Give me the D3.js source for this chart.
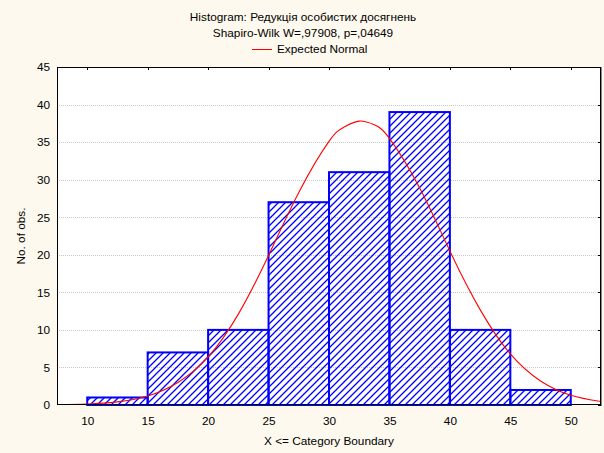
<!DOCTYPE html>
<html>
<head>
<meta charset="utf-8">
<script src="https://cdn.jsdelivr.net/npm/d3@7"></script>
<style>
  body { margin: 0; background: #fdf9ee; }
  svg { display: block; font-family: "Liberation Sans", Arial, sans-serif; }
</style>
</head>
<body>
<script>
// histogram bins (lower boundaries) and counts
var binStarts = [10, 15, 20, 25, 30, 35, 40, 45];
var binWidth = 5;
var counts = [1, 7, 10, 27, 31, 39, 10, 2];

// expected normal curve
var curveX = [7.5, 10, 12.5, 15, 17.5, 20, 22.5, 25, 27.5, 30, 31.25, 32.5, 33.75, 35, 37.5, 40, 42.5, 45, 47.5, 50, 52.5];
var curveY = [0.04, 0.13, 0.42, 1.2, 3.0, 6.4, 12.1, 19.9, 28.3, 35.1, 37.0, 37.8, 37.3, 35.5, 28.9, 20.5, 12.7, 6.8, 3.2, 1.3, 0.46];

var xTicks = [10, 15, 20, 25, 30, 35, 40, 45, 50];
var yTicks = [0, 5, 10, 15, 20, 25, 30, 35, 40, 45];

var titleLines = ["Histogram: Редукція особистих досягнень", "Shapiro-Wilk W=,97908, p=,04649"];
var legendText = "Expected Normal";

var W = 604, H = 453;
var margin = {top: 67, right: 3, bottom: 48, left: 57};
var width = W - margin.left - margin.right,
    height = H - margin.top - margin.bottom;

var svg = d3.select("body").append("svg")
    .attr("width", W)
    .attr("height", H);

// hatch pattern
var defs = svg.append("defs");
defs.append("pattern")
    .attr("id", "hatch")
    .attr("patternUnits", "userSpaceOnUse")
    .attr("width", 7)
    .attr("height", 7)
  .append("path")
    .attr("d", "M0,7 L7,0 M-1.5,1.5 L1.5,-1.5 M5.5,8.5 L8.5,5.5")
    .attr("stroke", "#0000ff")
    .attr("stroke-width", 1.3);

defs.append("clipPath").attr("id", "clip")
  .append("rect").attr("width", width).attr("height", height);

var x = d3.scaleLinear().domain([7.5, 52.5]).range([0, width]);
var y = d3.scaleLinear().domain([0, 45]).range([height, 0]);

// titles
svg.selectAll("text.title")
  .data(titleLines)
  .enter().append("text")
    .attr("class", "title")
    .attr("x", 303)
    .attr("y", function(d, i) { return 21 + i * 16; })
    .attr("text-anchor", "middle")
    .attr("font-size", 11.8)
    .attr("fill", "#000")
    .text(function(d) { return d; });

// legend
svg.append("line")
    .attr("x1", 252).attr("x2", 272)
    .attr("y1", 49.5).attr("y2", 49.5)
    .attr("stroke", "#ff0000").attr("stroke-width", 1);
svg.append("text")
    .attr("x", 277).attr("y", 53)
    .attr("font-size", 11.8)
    .text(legendText);

var g = svg.append("g")
    .attr("transform", "translate(" + margin.left + "," + margin.top + ")");

g.append("rect")
    .attr("width", width).attr("height", height)
    .attr("fill", "#fff");

// gridlines
g.selectAll("line.grid")
  .data(yTicks.filter(function(d) { return d > 0 && d < 45; }))
  .enter().append("line")
    .attr("class", "grid")
    .attr("x1", 0).attr("x2", width)
    .attr("y1", function(d) { return Math.round(y(d)) + 0.5; })
    .attr("y2", function(d) { return Math.round(y(d)) + 0.5; })
    .attr("stroke", "#c8c8c8")
    .attr("stroke-dasharray", "1,1");

// right-side inner ticks
g.selectAll("line.rtick")
  .data(yTicks)
  .enter().append("line")
    .attr("x1", width - 3).attr("x2", width)
    .attr("y1", function(d) { return Math.round(y(d)) + 0.5; })
    .attr("y2", function(d) { return Math.round(y(d)) + 0.5; })
    .attr("stroke", "#000");

// top inner ticks
g.selectAll("line.ttick")
  .data(xTicks)
  .enter().append("line")
    .attr("x1", function(d) { return Math.round(x(d)) + 0.5; })
    .attr("x2", function(d) { return Math.round(x(d)) + 0.5; })
    .attr("y1", 0).attr("y2", 3)
    .attr("stroke", "#000");

// bars
g.selectAll("rect.bar")
  .data(counts)
  .enter().append("rect")
    .attr("class", "bar")
    .attr("x", function(d, i) { return x(binStarts[i]); })
    .attr("y", function(d) { return y(d); })
    .attr("width", function(d, i) { return x(binStarts[i] + binWidth) - x(binStarts[i]); })
    .attr("height", function(d) { return height - y(d); })
    .attr("fill", "url(#hatch)")
    .attr("stroke", "#0000ff")
    .attr("stroke-width", 2);

// expected normal
var line = d3.line()
    .x(function(d, i) { return x(curveX[i]); })
    .y(function(d) { return y(d); })
    .curve(d3.curveNatural);

g.append("path")
    .datum(curveY)
    .attr("clip-path", "url(#clip)")
    .attr("d", line)
    .attr("fill", "none")
    .attr("stroke", "#ff0000")
    .attr("stroke-width", 1.1);

// frame
g.append("rect")
    .attr("x", 0.5).attr("y", 0.5)
    .attr("width", width - 1).attr("height", height - 1)
    .attr("fill", "none")
    .attr("stroke", "#000");
g.append("line")
    .attr("x1", width + 0.5).attr("x2", width + 0.5)
    .attr("y1", 0).attr("y2", height + 1)
    .attr("stroke", "#888");

// axes (labels only)
var xAxis = g.append("g")
    .attr("transform", "translate(0," + height + ")")
    .call(d3.axisBottom(x).tickValues(xTicks).tickSize(0).tickPadding(12));
var yAxis = g.append("g")
    .call(d3.axisLeft(y).tickValues(yTicks).tickSize(0).tickPadding(7));
[xAxis, yAxis].forEach(function(a) {
  a.select(".domain").remove();
  a.selectAll("text")
    .attr("font-size", 11.8)
    .attr("font-family", "Liberation Sans, Arial, sans-serif")
    .attr("fill", "#000");
});

// axis titles
svg.append("text")
    .attr("x", margin.left + x(30))
    .attr("y", 445)
    .attr("text-anchor", "middle")
    .attr("font-size", 11.8)
    .text("X <= Category Boundary");
svg.append("text")
    .attr("transform", "translate(25," + (margin.top + height / 2) + ") rotate(-90)")
    .attr("text-anchor", "middle")
    .attr("font-size", 11.8)
    .text("No. of obs.");
</script>
</body>
</html>
